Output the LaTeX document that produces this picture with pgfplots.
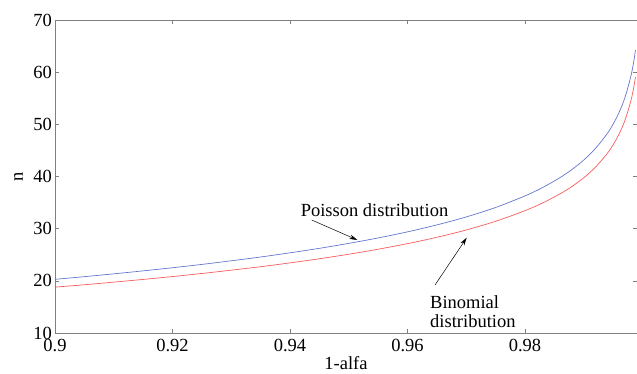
\documentclass[border=0pt]{standalone}
\usepackage{pgfplots}
\pgfplotsset{compat=1.18}
\usepackage{fontspec}
\setmainfont{Liberation Serif}
\usetikzlibrary{arrows.meta}

\definecolor{poissonblue}{RGB}{100,118,208}
\definecolor{binomred}{RGB}{248,92,92}
\definecolor{axisgray}{RGB}{128,128,128}

\begin{document}
\begin{tikzpicture}
\useasboundingbox (0,0) rectangle (637bp,374bp);
\begin{axis}[
  at={(55bp,41bp)}, anchor=south west,
  scale only axis, width=582bp, height=313bp,
  xmin=0.9, xmax=0.99906, ymin=10, ymax=70,
  xtick={0.9,0.92,0.94,0.96,0.98},
  xticklabels={0.9,0.92,0.94,0.96,0.98},
  ytick={10,20,...,70},
  tick align=inside, major tick length=4bp,
  axis line style={axisgray, line width=0.6bp},
  every tick/.style={axisgray, line width=0.6bp},
  tick label style={font=\fontsize{18.5bp}{21bp}\selectfont, text=black},
  /pgf/number format/assume math mode=true,
  xticklabel style={inner sep=0pt, yshift=-6bp},
  yticklabel style={inner sep=0pt, xshift=-3bp},
  label style={font=\fontsize{18.5bp}{21bp}\selectfont},
  xlabel={1-alfa},
  xlabel style={at={(axis description cs:0.5,0)}, anchor=base, yshift=-36bp, inner sep=0pt},
  ylabel={n},
  ylabel style={at={(axis description cs:-0.055,0.5)}, anchor=south, rotate=0, inner sep=0pt},
  clip=false,
]
% Poisson approximation
\addplot[poissonblue, line width=0.7bp, smooth] coordinates {
 (0.900,20.29) (0.905,20.80) (0.910,21.34) (0.915,21.91) (0.920,22.51)
 (0.925,23.15) (0.930,23.84) (0.935,24.57) (0.940,25.37) (0.945,26.23)
 (0.950,27.18) (0.955,28.22) (0.960,29.39) (0.965,30.72) (0.970,32.25)
 (0.975,34.06) (0.980,36.28) (0.983,37.89) (0.986,39.82) (0.988,41.35)
 (0.990,43.16) (0.992,45.38) (0.994,48.23) (0.995,50.04) (0.996,52.26)
 (0.997,55.11) (0.998,59.14) (0.9985,62.00) (0.9988,64.21)
};
% Binomial distribution
\addplot[binomred, line width=0.7bp, smooth] coordinates {
 (0.900,18.79) (0.905,19.25) (0.910,19.75) (0.915,20.27) (0.920,20.82)
 (0.925,21.41) (0.930,22.04) (0.935,22.71) (0.940,23.44) (0.945,24.23)
 (0.950,25.10) (0.955,26.06) (0.960,27.13) (0.965,28.35) (0.970,29.75)
 (0.975,31.42) (0.980,33.45) (0.983,34.93) (0.986,36.70) (0.988,38.10)
 (0.990,39.76) (0.992,41.80) (0.994,44.42) (0.995,46.08) (0.996,48.11)
 (0.997,50.73) (0.998,54.43) (0.9985,57.05) (0.9988,59.08)
};
% annotations
\node[anchor=base west, inner sep=0pt, font=\fontsize{18.5bp}{21bp}\selectfont]
  at (axis cs:0.9418,32.24) {Poisson distribution};
\draw[black, line width=0.5bp, -{Stealth[length=8bp,width=4.5bp]}]
  (axis cs:0.94369,31.66) -- (axis cs:0.95146,27.83);
\node[anchor=base west, inner sep=0pt, font=\fontsize{18.5bp}{21bp}\selectfont]
  at (axis cs:0.96383,14.73) {Binomial};
\node[anchor=base west, inner sep=0pt, font=\fontsize{18.5bp}{21bp}\selectfont]
  at (axis cs:0.96383,10.96) {distribution};
\draw[black, line width=0.5bp, -{Stealth[length=8bp,width=4.5bp]}]
  (axis cs:0.96468,19.20) -- (axis cs:0.97008,28.27);
\end{axis}
\end{tikzpicture}
\end{document}
